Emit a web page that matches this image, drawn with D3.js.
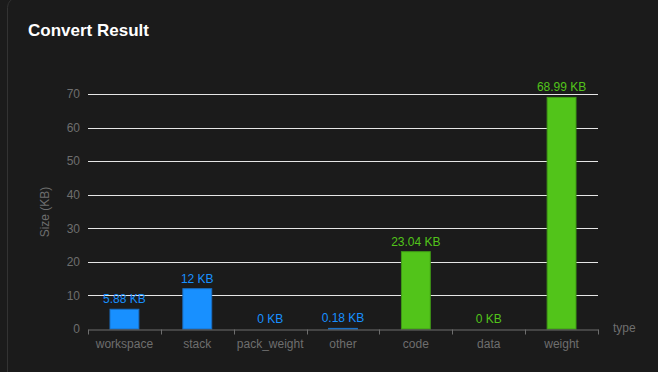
<!DOCTYPE html>
<html><head><meta charset="utf-8">
<script src="https://cdn.jsdelivr.net/npm/d3@7"></script>
<style>
html,body{margin:0;padding:0;background:#1b1b1b;}
svg{display:block;font-family:"Liberation Sans",Arial,sans-serif;}
</style></head>
<body><svg id="c" width="658" height="372"></svg>
<script>
const categories = ["workspace","stack","pack_weight","other","code","data","weight"];
const values = [5.88, 12, 0, 0.18, 23.04, 0, 68.99];
const groups = ["a","a","a","a","b","b","b"];
const yTicks = [0,10,20,30,40,50,60,70];
const colorMap = {a:"#1890ff", b:"#52c41a"};
const strokeMap = {a:"#1a6fc4", b:"#3f9a16"};

const svg = d3.select("#c");
svg.append("rect").attr("x",7.5).attr("y",-2.5).attr("width",660).attr("height",390)
  .attr("rx",10).attr("fill","#1b1b1b").attr("stroke","#333");
svg.append("text").attr("x",28).attr("y",36).attr("fill","#fff")
  .attr("font-size",17).attr("font-weight","bold").text("Convert Result");

const x = d3.scaleBand().domain(categories).range([88,598]).paddingInner(0.59).paddingOuter(0.295);
const xb = d3.scaleBand().domain(categories).range([88,598]);
const y = d3.scaleLinear().domain([0,70]).range([329,94]);

const grid = svg.append("g");
grid.selectAll("line").data(yTicks.filter(t=>t>0)).join("line")
  .attr("x1",88).attr("x2",598).attr("y1",d=>Math.round(y(d))+0.5).attr("y2",d=>Math.round(y(d))+0.5)
  .attr("stroke","#e6e6e6").attr("stroke-width",1);

const ya = svg.append("g").attr("transform","translate(88,0)")
  .call(d3.axisLeft(y).tickValues(yTicks).tickSize(0).tickPadding(8));
ya.select(".domain").remove();
ya.selectAll("text").attr("fill","#6e6e6e").attr("font-size",12).attr("font-family","Liberation Sans, Arial, sans-serif");

svg.selectAll("rect.bar").data(values).join("rect").attr("class","bar")
  .attr("x",(d,i)=>x(categories[i])+0.5)
  .attr("y",d=>y(d))
  .attr("width",x.bandwidth()-1)
  .attr("height",d=>y(0)-y(d))
  .attr("fill",(d,i)=>colorMap[groups[i]])
  .attr("stroke",(d,i)=>strokeMap[groups[i]]).attr("stroke-width",1);

svg.selectAll("text.lbl").data(values).join("text").attr("class","lbl")
  .attr("x",(d,i)=>xb(categories[i])+xb.bandwidth()/2)
  .attr("y",d=>y(d)-6)
  .attr("text-anchor","middle").attr("font-size",12)
  .attr("fill",(d,i)=>colorMap[groups[i]])
  .text(d=>d+" KB");

const xa = svg.append("g").attr("transform","translate(0,329.5)")
  .call(d3.axisBottom(xb).tickSize(0).tickPadding(10));
xa.select(".domain").attr("stroke","#6e6e6e");
xa.selectAll("text").attr("fill","#6e6e6e").attr("font-size",12).attr("font-family","Liberation Sans, Arial, sans-serif");
const bounds = categories.map(c=>xb(c)).concat([598]);
svg.append("g").selectAll("line").data(bounds).join("line")
  .attr("x1",d=>Math.round(d)+0.5).attr("x2",d=>Math.round(d)+0.5)
  .attr("y1",329.5).attr("y2",334.5).attr("stroke","#6e6e6e");

svg.append("text").attr("transform","translate(49,212) rotate(-90)")
  .attr("text-anchor","middle").attr("fill","#6e6e6e").attr("font-size",12).text("Size (KB)");
svg.append("text").attr("x",613).attr("y",332).attr("fill","#6e6e6e").attr("font-size",12).text("type");
</script></body></html>
